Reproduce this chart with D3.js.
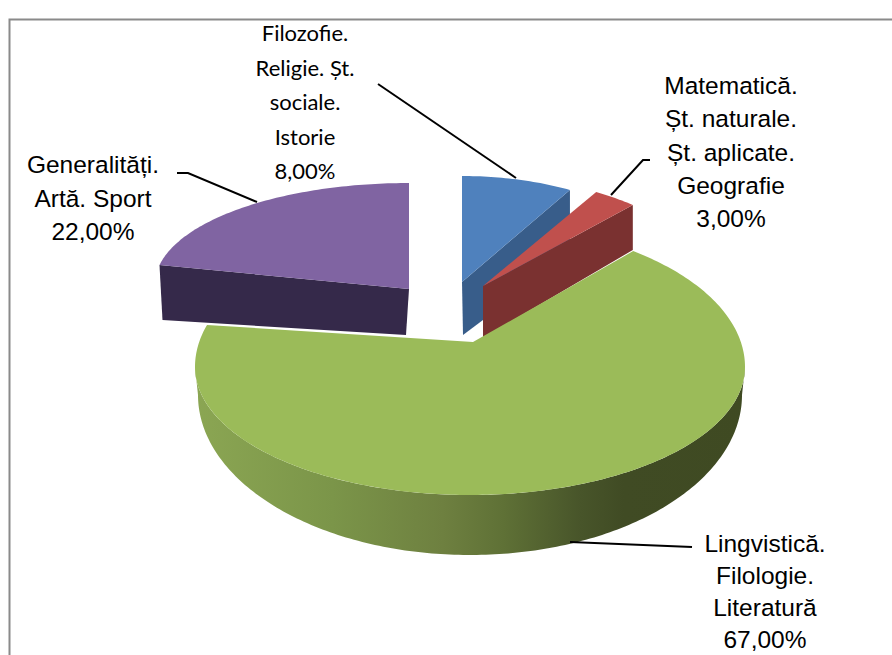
<!DOCTYPE html>
<html>
<head>
<meta charset="utf-8">
<script src="https://cdnjs.cloudflare.com/ajax/libs/d3/7.8.5/d3.min.js"></script>
<style>html,body{margin:0;padding:0;background:#fff;overflow:hidden}svg{display:block}</style>
</head>
<body>
<svg id="chart" width="892" height="655"></svg>
<script>
const categories = [
  ["Filozofie.", "Religie. Șt.", "sociale.", "Istorie"],
  ["Matematică.", "Șt. naturale.", "Șt. aplicate.", "Geografie"],
  ["Lingvistică.", "Filologie.", "Literatură"],
  ["Generalități.", "Artă. Sport"]
];
const values = [8, 3, 67, 22];
const topColors = ["#4f81bd", "#c0504d", "#9bbb59", "#8064a2"];
const wallColors = ["#385d8a", "#7a3130", "#3f4a22", "#35294a"];

// Layout of each exploded wedge in the tilted view
const views = [
  {vx:462, vy:282, ex:462, ey:289, rx:224, up:113, down:113, wall:"end", inD:53, outD:65, inDx:1, outDx:0},
  {vx:483, vy:286, ex:483, ey:299, rx:235, up:122, down:122, wall:"end", inD:52, outD:45, inDx:0, outDx:0},
  {vx:473, vy:342, ex:470, ey:367, rx:275, up:144, down:128, from:36.4, to:287},
  {vx:409, vy:289, ex:409, ey:284, rx:254, up:101, down:101, wall:"start", inD:46, outD:55, inDx:-3, outDx:3}
];
const labelStyles = [
  {family:"Lato, Carlito, sans-serif", size:22, x:305, y:41, step:34.5},
  {family:"'Liberation Sans', Arial, sans-serif", size:24.5, x:731, y:94, step:33.3},
  {family:"'Liberation Sans', Arial, sans-serif", size:24.5, x:765, y:552, step:32},
  {family:"'Liberation Sans', Arial, sans-serif", size:24.5, x:93, y:173, step:33.5}
];
const leaders = [
  [[378,84],[516,178]],
  [[650,160],[643,160],[611,195]],
  [[692,547],[570,542]],
  [[177,173],[188,173],[257,202]]
];
const frameLine = [[9.5,655],[9.5,19.5],[892,19.5]];
const greenWallStops = [
  ["0%","#8ba653"],["25%","#7b9549"],["45%","#6e8040"],["56%","#5f7136"],["70%","#48552a"],["78%","#404b24"],["100%","#3f4a22"]
];

const svg = d3.select("#chart");
const line = d3.line();
const pct = d3.formatLocale({decimal:",",thousands:".",grouping:[3],currency:["","%"]}).format(".2f");
const pie = d3.pie().sort(null)(values);
const total = d3.sum(values);

const grad = svg.append("defs").append("linearGradient")
  .attr("id","greenWall").attr("gradientUnits","userSpaceOnUse")
  .attr("x1",195).attr("x2",745).attr("y1",0).attr("y2",0);
grad.selectAll("stop").data(greenWallStops).join("stop")
  .attr("offset",d=>d[0]).attr("stop-color",d=>d[1]);

svg.append("path").attr("d",line(frameLine)).attr("fill","none").attr("stroke","#8a8a8a").attr("stroke-width",2);

const rad = d3.scaleLinear().domain([0,180]).range([0,Math.PI]);
function pt(v,a){
  const up = Math.cos(a) > 0;
  return [v.ex + v.rx*Math.sin(a), v.ey - (up ? v.up : v.down)*Math.cos(a)];
}
function arcPts(v,a0,a1,f){
  const n = Math.max(8,Math.ceil(Math.abs(a1-a0)*60));
  return d3.range(n+1).map(i=>(f||pt)(v,a0+(a1-a0)*i/n));
}

// blue, red, then the large wedge, then purple on top
pie.forEach((p,i)=>{
  const v = views[i];
  const angle = d3.scaleLinear().domain([p.startAngle,p.endAngle])
    .range(v.from!==undefined ? [rad(v.from),rad(v.to)] : [p.startAngle,p.endAngle]);
  const a0 = angle(p.startAngle), a1 = angle(p.endAngle);
  const g = svg.append("g");
  if(v.wall){
    const c = pt(v, v.wall==="end" ? a1 : a0);
    g.append("path").attr("fill",wallColors[i]).attr("d",line([
      c,[v.vx,v.vy],[v.vx+v.inDx,v.vy+v.inD],[c[0]+v.outDx,c[1]+v.outD]
    ])+"Z");
  } else {
    const lower = {ex:v.ex, ey:395, rx:272, up:160, down:160};
    const top = arcPts(v,rad(90),rad(270));
    const bottom = arcPts(lower,rad(270),rad(90));
    g.append("path").attr("fill","url(#greenWall)").attr("d",line(top.concat(bottom))+"Z");
  }
  g.append("path").attr("fill",topColors[i])
    .attr("d",line([[v.vx,v.vy]].concat(arcPts(v,a0,a1)))+"Z");
});

svg.selectAll("path.leader").data(leaders).join("path").attr("class","leader")
  .attr("d",d=>line(d)).attr("fill","none").attr("stroke","#000").attr("stroke-width",2);

categories.forEach((lines,i)=>{
  const s = labelStyles[i];
  const t = svg.append("text").attr("text-anchor","middle")
    .attr("font-family",s.family).attr("font-size",s.size).attr("fill","#000");
  lines.concat([pct(values[i]/total*100)+"%"]).forEach((txt,k)=>{
    t.append("tspan").attr("x",s.x).attr("y",s.y+k*s.step).text(txt);
  });
});
</script>
</body>
</html>
